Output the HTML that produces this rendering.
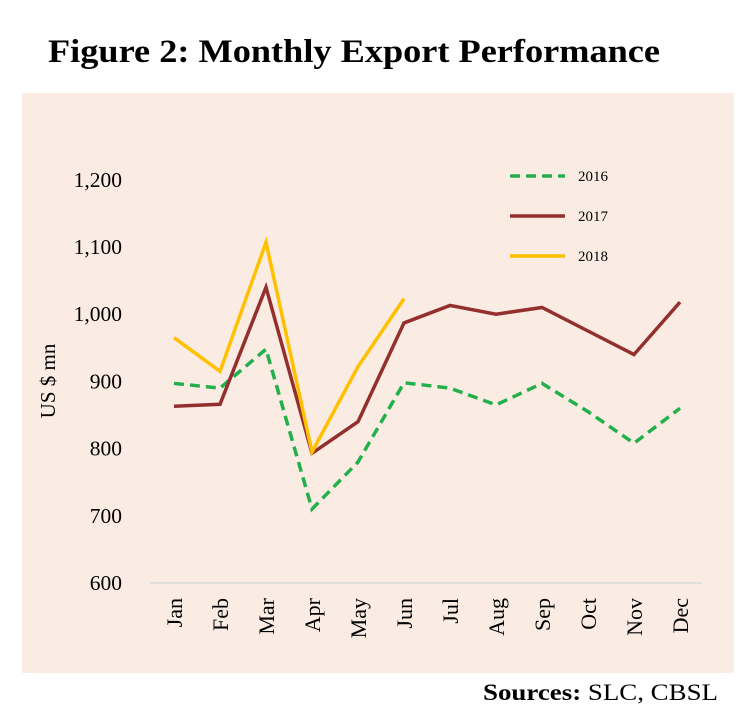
<!DOCTYPE html>
<html><head><meta charset="utf-8"><style>
body{margin:0;width:750px;height:718px;background:#fff;overflow:hidden;font-family:"Liberation Serif",serif}
</style></head><body>
<svg width="750" height="718" xmlns="http://www.w3.org/2000/svg" font-family="Liberation Serif, serif">
<text x="48" y="62" font-size="33" font-weight="bold" textLength="612" lengthAdjust="spacingAndGlyphs">Figure 2: Monthly Export Performance</text>
<rect x="22" y="93" width="712" height="580" fill="#fbece3"/>
<g id="plot"></g>
<text x="483" y="700" font-size="23" textLength="235" lengthAdjust="spacingAndGlyphs"><tspan font-weight="bold">Sources:</tspan> SLC, CBSL</text>
</svg>
<script>
const months=["Jan","Feb","Mar","Apr","May","Jun","Jul","Aug","Sep","Oct","Nov","Dec"];
const yTicks=[600,700,800,900,1000,1100,1200];
const yTickLabels=["600","700","800","900","1,000","1,100","1,200"];
const s2016=[897,890,948,710,780,898,890,865,897,855,808,860];
const s2017=[863,866,1040,793,840,987,1013,1000,1010,975,940,1018];
const s2018=[965,915,1107,795,922,1023];
const NS="http://www.w3.org/2000/svg";
const g=document.getElementById('plot');
const x=i=>174+i*46;
const y=v=>583-(v-600)*0.672;
function el(t,a){const e=document.createElementNS(NS,t);for(const k in a)e.setAttribute(k,a[k]);g.appendChild(e);return e;}
const ax=el('line',{x1:150,y1:583,x2:702,y2:583,stroke:'#d9d9d9','stroke-width':1.5});


yTicks.forEach((v,i)=>{const t=el('text',{x:122,y:y(v)+7,'font-size':21.5,'text-anchor':'end'});t.textContent=yTickLabels[i];

});
months.forEach((m,i)=>{const t=el('text',{x:0,y:0,'font-size':22,'text-anchor':'end',transform:`translate(${x(i)+8},598) rotate(-90)`});t.textContent=m;

});
const yt=el('text',{x:0,y:0,'font-size':21,'text-anchor':'middle',transform:'translate(55,381) rotate(-90)'});yt.textContent='US $ mn';


const series=[[s2016,'#22b04b','10,6','2016'],[s2017,'#93302d','','2017'],[s2018,'#ffc000','','2018']];
series.forEach(([d,c,dash,n],k)=>{
 const p=el('polyline',{points:d.map((v,i)=>x(i)+','+y(v)).join(' '),fill:'none',stroke:c,'stroke-width':3.5,'stroke-dasharray':dash,'stroke-linejoin':'miter'});
 
 
 const ly=176+k*40;
 const l=el('line',{x1:510,y1:ly,x2:565,y2:ly,stroke:c,'stroke-width':3.5,'stroke-dasharray':dash});
 
 
 const t=el('text',{x:578,y:ly+5,'font-size':15});t.textContent=n;
 
 
});
</script>
</body></html>
